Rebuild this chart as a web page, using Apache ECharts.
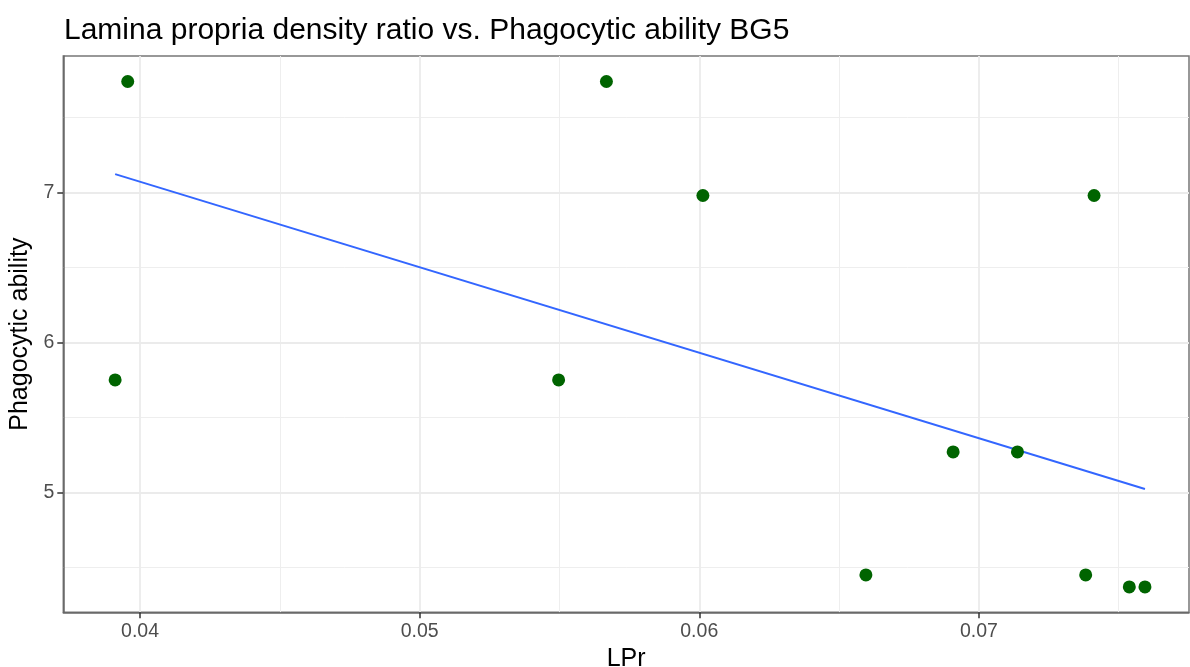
<!DOCTYPE html>
<html>
<head>
<meta charset="utf-8">
<script src="https://cdn.jsdelivr.net/npm/echarts@6/dist/echarts.min.js"></script>
<style>
html,body{margin:0;padding:0;background:#fff;}
#chart{width:1190px;height:667px;}
</style>
</head>
<body>
<div id="chart"></div>
<script>
// ---- data ----
const lpr = [0.03911, 0.03956, 0.05497, 0.05668, 0.06013, 0.06596, 0.06908, 0.07138, 0.07382, 0.07412, 0.07538, 0.07594];
const phagocytic = [5.75, 7.74, 5.75, 7.74, 6.98, 4.45, 5.27, 5.27, 4.45, 6.98, 4.37, 4.37];
const xMajorTicks = [0.04, 0.05, 0.06, 0.07];
const xMinorTicks = [0.045, 0.055, 0.065, 0.075];
const yMajorTicks = [5, 6, 7];
const yMinorTicks = [4.5, 5.5, 6.5, 7.5];
const xRange = [0.037256, 0.077515];
const yRange = [4.201, 7.91];
const titleText = 'Lamina propria density ratio vs. Phagocytic ability BG5';
const xName = 'LPr';
const yName = 'Phagocytic ability';

// least-squares fit (as geom_smooth(method = "lm"))
const n = lpr.length;
const mx = lpr.reduce((a, b) => a + b, 0) / n;
const my = phagocytic.reduce((a, b) => a + b, 0) / n;
let sxy = 0, sxx = 0;
for (let i = 0; i < n; i++) { sxy += (lpr[i] - mx) * (phagocytic[i] - my); sxx += (lpr[i] - mx) ** 2; }
const slope = sxy / sxx, intercept = my - slope * mx;
const xMin = Math.min(...lpr), xMax = Math.max(...lpr);
const fitLine = [[xMin, intercept + slope * xMin], [xMax, intercept + slope * xMax]];

const points = lpr.map((x, i) => [x, phagocytic[i]]);
const FONT = "'Liberation Sans', Arial, sans-serif";

const chart = echarts.init(document.getElementById('chart'), null, {renderer: 'canvas'});
const majorGrid = {show: true, lineStyle: {color: '#EBEBEB', width: 1.8}};
const minorGrid = {show: true, lineStyle: {color: '#EEEEEE', width: 1}};
chart.setOption({
  animation: false,
  backgroundColor: '#ffffff',
  title: {
    text: titleText, left: 59, top: 11,
    textStyle: {fontFamily: FONT, fontSize: 30, fontWeight: 'normal', color: '#000'}
  },
  grid: {left: 63.3, right: 1, top: 56, bottom: 54.7, containLabel: false, outerBoundsMode: 'none',
         show: true, borderColor: '#777', borderWidth: 1.5, backgroundColor: 'transparent'},
  xAxis: [
    {
      type: 'value', min: xRange[0], max: xRange[1], position: 'bottom', z: 1,
      name: xName, nameLocation: 'middle', nameGap: 30,
      nameTextStyle: {fontFamily: FONT, fontSize: 25, color: '#000'},
      axisLine: {show: true, onZero: false, lineStyle: {color: '#666', width: 1.5}},
      axisTick: {show: true, length: 6, customValues: xMajorTicks, lineStyle: {color: '#333', width: 1.5}},
      axisLabel: {customValues: xMajorTicks, margin: 9, fontFamily: FONT, fontSize: 19.5, color: '#4d4d4d', formatter: v => String(v)},
      splitLine: majorGrid
    },
    {
      type: 'value', min: xRange[0], max: xRange[1], position: 'bottom', z: 0,
      axisLine: {show: false}, axisTick: {show: false, customValues: xMinorTicks},
      axisLabel: {show: false, customValues: xMinorTicks},
      splitLine: minorGrid
    }
  ],
  yAxis: [
    {
      type: 'value', min: yRange[0], max: yRange[1], position: 'left', z: 1,
      name: yName, nameLocation: 'middle', nameGap: 25, nameRotate: 90,
      nameTextStyle: {fontFamily: FONT, fontSize: 25, color: '#000'},
      axisLine: {show: true, onZero: false, lineStyle: {color: '#666', width: 1.5}},
      axisTick: {show: true, length: 6, customValues: yMajorTicks, lineStyle: {color: '#333', width: 1.5}},
      axisLabel: {customValues: yMajorTicks, margin: 9, fontFamily: FONT, fontSize: 19.5, color: '#4d4d4d'},
      splitLine: majorGrid
    },
    {
      type: 'value', min: yRange[0], max: yRange[1], position: 'left', z: 0,
      axisLine: {show: false}, axisTick: {show: false, customValues: yMinorTicks},
      axisLabel: {show: false, customValues: yMinorTicks},
      splitLine: minorGrid
    }
  ],
  series: [
    {
      type: 'line', data: fitLine, xAxisIndex: 0, yAxisIndex: 0, symbol: 'none', z: 3,
      lineStyle: {color: '#3366FF', width: 1.9}, silent: true
    },
    {
      type: 'scatter', data: points, xAxisIndex: 0, yAxisIndex: 0, symbolSize: 13, z: 4,
      itemStyle: {color: '#006400', opacity: 1}
    }
  ]
});
</script>
</body>
</html>
